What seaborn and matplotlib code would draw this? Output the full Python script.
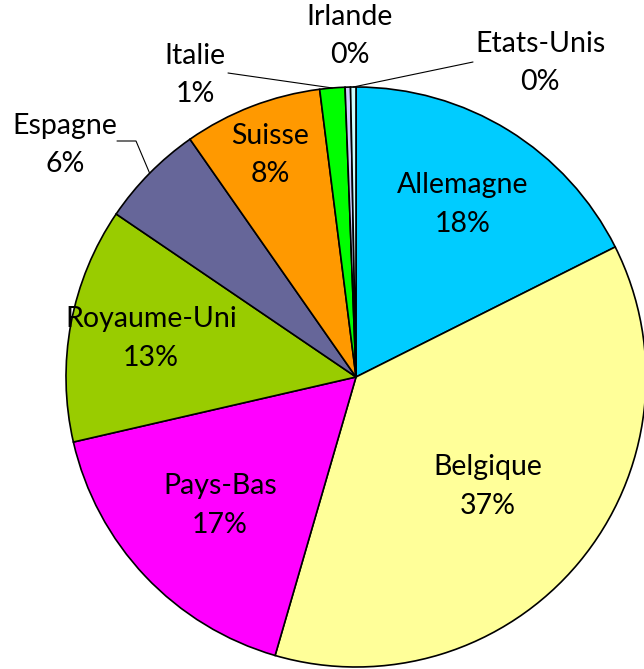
import numpy as np
import matplotlib
matplotlib.use("Agg")
import matplotlib.pyplot as plt
import seaborn as sns

# ---- data ----
countries = ["Allemagne", "Belgique", "Pays-Bas", "Royaume-Uni", "Espagne",
             "Suisse", "Italie", "Irlande", "Etats-Unis"]
shares = [17.6, 36.9, 16.9, 13.1, 5.8, 7.7, 1.4, 0.3, 0.3]
pct_labels = ["18%", "37%", "17%", "13%", "6%", "8%", "1%", "0%", "0%"]
colors = ["#00CCFF", "#FFFF99", "#FF00FF", "#99CC00", "#666699",
          "#FF9900", "#00FF00", "#CCCCFF", "#CCFFFF"]

sns.set_theme(style="white")
plt.rcParams['font.family'] = ['Lato', 'DejaVu Sans']

W, H = 644, 669
fig = plt.figure(figsize=(W / 100, H / 100), dpi=100)
cx, cy, R = 356, 377, 290
ax = fig.add_axes([(cx - R) / W, (H - cy - R) / H, 2 * R / W, 2 * R / H])
ax.set_axis_off()

wedges, _ = ax.pie(shares, colors=colors, startangle=90, counterclock=False,
                   radius=1.0,
                   wedgeprops=dict(edgecolor="black", linewidth=1.2))
ax.set_xlim(-1, 1)
ax.set_ylim(-1, 1)
ax.set_aspect("auto")


def px2d(px, py):
    return (px - cx) / R, (cy - py) / R


fs = 20.5
ls = 1.6
inside_r = {"Allemagne": 0.70, "Belgique": 0.59, "Pays-Bas": 0.645,
            "Royaume-Uni": 0.72, "Suisse": 0.82}
outside_pos = {"Espagne": (65, 145), "Italie": (195, 75),
               "Irlande": (350, 36), "Etats-Unis": (540, 63)}
leader_pts = {"Espagne": [(117, 141), (136, 141)],
              "Italie": [(228, 73)],
              "Etats-Unis": [(473, 62)]}

for w, name, pl in zip(wedges, countries, pct_labels):
    mid = np.deg2rad((w.theta1 + w.theta2) / 2)
    txt = f"{name}\n{pl}"
    if name in inside_r:
        r = inside_r[name]
        ax.text(r * np.cos(mid), r * np.sin(mid), txt, ha="center", va="center",
                fontsize=fs, linespacing=ls, color="black", clip_on=False)
    else:
        tx, ty = px2d(*outside_pos[name])
        ax.text(tx, ty, txt, ha="center", va="center", fontsize=fs,
                linespacing=ls, color="black", clip_on=False)
        if name in leader_pts:
            pts = [px2d(*p) for p in leader_pts[name]]
            pts.append((np.cos(mid), np.sin(mid)))
            xs, ys = zip(*pts)
            ax.plot(xs, ys, color="black", linewidth=0.8, clip_on=False)

fig.savefig("out.png", dpi=100)
